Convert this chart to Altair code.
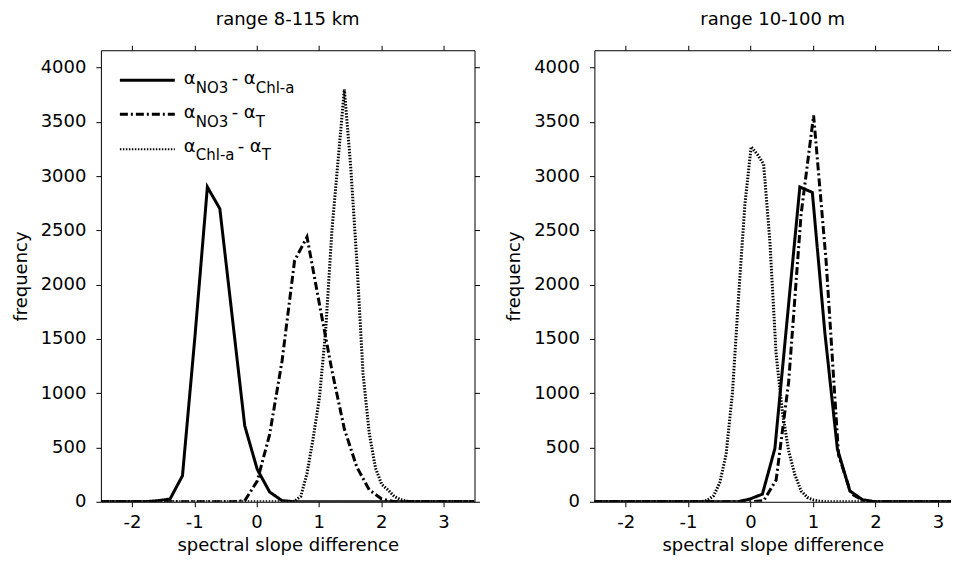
import altair as alt
import pandas as pd

# ---------------- data ----------------
SERIES = ["NO3-Chl", "NO3-T", "Chl-T"]

# panel 1: range 8-115 km
L_solid_x = [-2.5, -1.79, -1.59, -1.39, -1.19, -0.99, -0.79, -0.59, -0.39, -0.19, 0.01, 0.21, 0.41, 0.61, 3.5]
L_solid_y = [0, 0, 10, 25, 240, 1520, 2900, 2700, 1700, 700, 300, 90, 10, 0, 0]

L_dash_x = [-2.5, -0.39, -0.19, 0.01, 0.21, 0.41, 0.61, 0.81, 1.01, 1.21, 1.41, 1.61, 1.81, 2.01, 2.21, 3.5]
L_dash_y = [0, 0, 10, 190, 620, 1300, 2220, 2440, 1820, 1210, 670, 320, 110, 25, 0, 0]

L_dot_x = [-2.5, 0.51, 0.61, 0.71, 0.81, 0.91, 1.01, 1.11, 1.21, 1.31, 1.41, 1.51, 1.61, 1.71,
           1.81, 1.91, 2.01, 2.11, 2.21, 2.31, 2.41, 2.51, 3.5]
L_dot_y = [0, 0, 5, 50, 260, 590, 960, 1580, 2500, 3150, 3800, 3100, 2220, 1180,
           630, 310, 160, 110, 50, 20, 5, 0, 0]

# panel 2: range 10-100 m
R_solid_x = [-2.5, -0.21, -0.01, 0.19, 0.39, 0.59, 0.79, 0.99, 1.19, 1.39, 1.59, 1.79, 1.99, 3.5]
R_solid_y = [0, 0, 25, 70, 490, 1700, 2900, 2850, 1560, 490, 100, 20, 0, 0]

R_dash_x = [-2.5, 0.01, 0.21, 0.41, 0.61, 0.81, 1.01, 1.21, 1.41, 1.61, 1.81, 2.01, 3.5]
R_dash_y = [0, 0, 10, 200, 1100, 2650, 3560, 2220, 430, 75, 10, 0, 0]

R_dot_x = [-2.5, -0.79, -0.69, -0.59, -0.49, -0.39, -0.29, -0.19, -0.09, 0.01, 0.11, 0.21, 0.31,
           0.41, 0.51, 0.61, 0.71, 0.81, 0.91, 1.01, 1.11, 1.21, 3.5]
R_dot_y = [0, 0, 15, 55, 180, 440, 1000, 1900, 2740, 3270, 3200, 3110, 2400,
           1360, 830, 470, 250, 100, 40, 15, 5, 0, 0]

X_TICKS = [-2, -1, 0, 1, 2, 3]
Y_TICKS = [0, 500, 1000, 1500, 2000, 2500, 3000, 3500, 4000]
TITLES = ["range 8-115 km", "range 10-100 m"]
X_TITLE = "spectral slope difference"
Y_TITLE = "frequency"

# ---------------- table ----------------
rows = []
for panel, sets in (("L", [(SERIES[0], L_solid_x, L_solid_y), (SERIES[1], L_dash_x, L_dash_y), (SERIES[2], L_dot_x, L_dot_y)]),
                    ("R", [(SERIES[0], R_solid_x, R_solid_y), (SERIES[1], R_dash_x, R_dash_y), (SERIES[2], R_dot_x, R_dot_y)])):
    for s, xs, ys in sets:
        for i, (xv, yv) in enumerate(zip(xs, ys)):
            rows.append({"panel": panel, "series": s, "x": xv, "y": yv, "i": i})
df = pd.DataFrame(rows)

FONT = "DejaVu Sans"
DASH_RANGE = [[1, 0], [8, 3, 2, 3], [1.5, 1.5]]
WIDTH_RANGE = [3, 3, 2]


def panel(name, title, xdom, width, with_legend, right_axis):
    xscale = alt.Scale(domain=xdom, nice=False, zero=False)
    yscale = alt.Scale(domain=[0, 4160], nice=False, zero=False)
    base = alt.Chart(df).transform_filter(alt.datum.panel == name)
    lines = base.mark_line(clip=True, color="black").encode(
        x=alt.X("x:Q", scale=xscale,
                axis=alt.Axis(values=X_TICKS, title=X_TITLE, labelExpr="'' + datum.value",
                              labelPadding=7, titlePadding=5)),
        y=alt.Y("y:Q", scale=yscale,
                axis=alt.Axis(values=Y_TICKS, title=Y_TITLE, labelExpr="'' + datum.value",
                              labelPadding=10, titlePadding=10)),
        strokeDash=alt.StrokeDash("series:N", scale=alt.Scale(domain=SERIES, range=DASH_RANGE), legend=None),
        strokeWidth=alt.StrokeWidth("series:N", scale=alt.Scale(domain=SERIES, range=WIDTH_RANGE), legend=None),
        order=alt.Order("i:Q"),
    )
    if right_axis:
        yaxis2 = alt.Axis(orient="right", values=Y_TICKS, labels=False, title=None)
    else:
        yaxis2 = None
    mirror = base.mark_line(opacity=0, clip=True).encode(
        x=alt.X("x:Q", scale=xscale,
                axis=alt.Axis(orient="top", values=X_TICKS, labels=False, title=None)),
        y=alt.Y("y:Q", scale=yscale, axis=yaxis2),
        detail="series:N",
    )
    layers = [lines, mirror]
    if with_legend:
        one = alt.Chart(pd.DataFrame({"k": [0]}))
        entries = [
            (30, 34, 43, [("α", 83, False), ("NO3", 95, True), ("-", 131, False), ("α", 143, False), ("Chl-a", 155, True)], DASH_RANGE[0], WIDTH_RANGE[0]),
            (64, 68, 77, [("α", 83, False), ("NO3", 95, True), ("-", 131, False), ("α", 143, False), ("T", 155, True)], DASH_RANGE[1], WIDTH_RANGE[1]),
            (99, 102, 110, [("α", 83, False), ("Chl-a", 95, True), ("-", 137, False), ("α", 149, False), ("T", 161, True)], DASH_RANGE[2], WIDTH_RANGE[2]),
        ]
        for ly, by, sy, pieces, dash, sw in entries:
            layers.append(one.mark_rule(color="black", strokeDash=dash, strokeWidth=sw).encode(
                x=alt.value(19), x2=alt.value(74), y=alt.value(ly)))
            for txt, tx, sub in pieces:
                layers.append(one.mark_text(align="left", baseline="alphabetic", font=FONT,
                                            fontSize=15 if sub else 18, color="black").encode(
                    x=alt.value(tx), y=alt.value(sy if sub else by), text=alt.value(txt)))
    return alt.layer(*layers).resolve_axis(x="independent", y="independent").properties(
        width=width, height=452,
        title=alt.TitleParams(text=title, font=FONT, fontSize=18, fontWeight="normal",
                              color="black", offset=16, anchor="middle"))


left = panel("L", TITLES[0], [-2.5, 3.5], 374, True, True)
right = panel("R", TITLES[1], [-2.5, 3.21], 357, False, False)

chart = alt.hconcat(left, right, spacing=25).properties(
    padding={"left": 4, "top": 2, "right": 0, "bottom": 0},
    background="white",
).configure_view(stroke=None).configure_axis(
    grid=False, domainColor="black", domainWidth=1, tickColor="black", tickSize=5, tickWidth=1,
    labelColor="black", titleColor="black", labelFont=FONT, titleFont=FONT,
    labelFontSize=18, titleFontSize=18, titleFontWeight="normal",
)

chart.save("out.html", embed_options={"renderer": "svg", "actions": False})
